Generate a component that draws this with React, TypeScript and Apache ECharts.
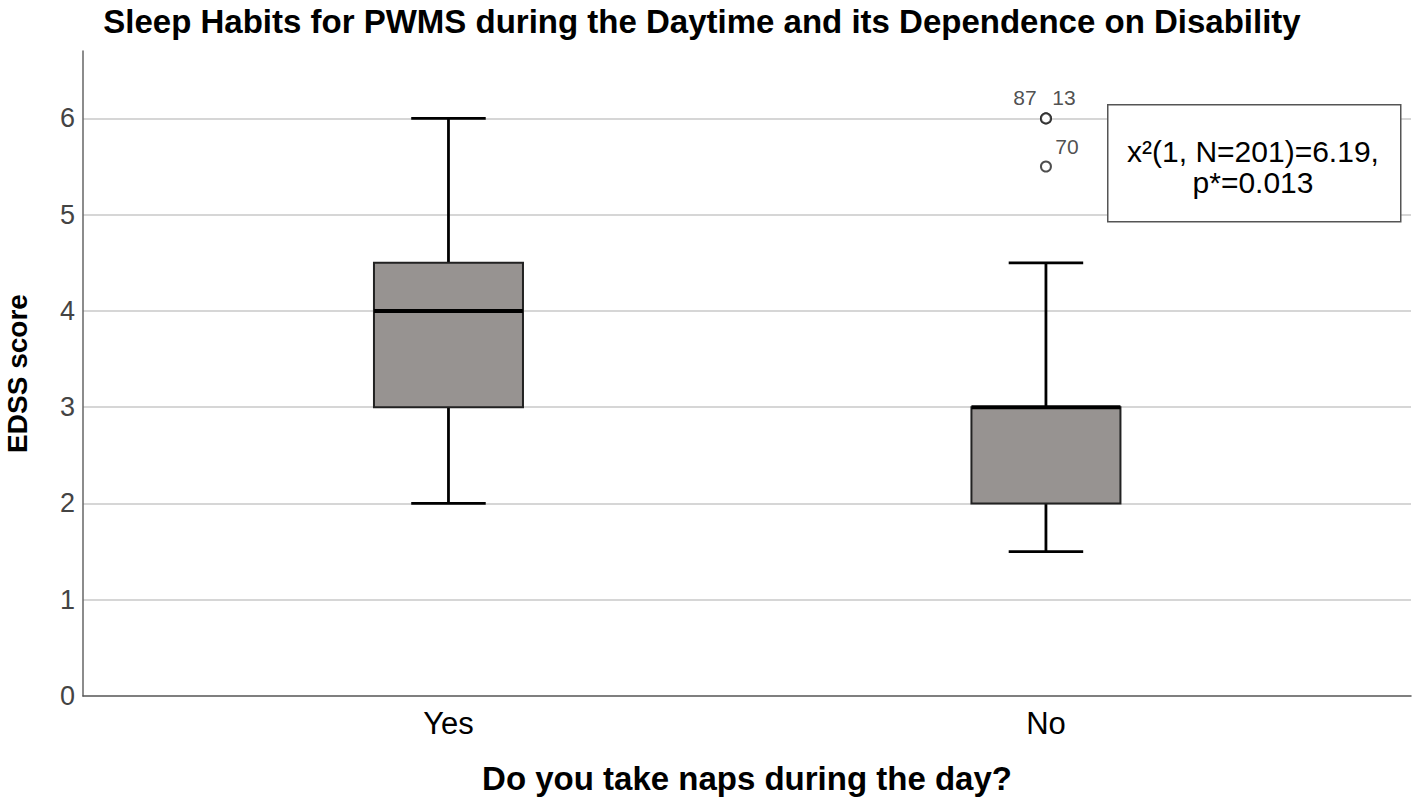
import React, { useEffect, useRef } from "react";
import * as echarts from "echarts";

const categories = ["Yes", "No"];
// [whiskerLow, q1, median, q3, whiskerHigh]
const boxStats = [
  [2, 3, 4, 4.5, 6],
  [1.5, 2, 3, 3, 4.5],
];
const outlierGroup = [1, 1, 1];
const outlierValues = [6, 6, 5.5];
const outlierCases = ["87", "13", "70"];
const outlierLabelOffsetX = [-21, 18, 21];
const yTicks = [0, 1, 2, 3, 4, 5, 6];
const statLines = ["x²(1, N=201)=6.19,", "p*=0.013"];

const FONT = "'Liberation Sans', Arial, sans-serif";

export default function App() {
  const ref = useRef<HTMLDivElement>(null);
  useEffect(() => {
    document.body.style.margin = "0";
    const chart = echarts.init(ref.current!, null, { renderer: "svg" });
    const boxWidthUnits = 0.2494;
    const option: any = {
      animation: false,
      backgroundColor: "#ffffff",
      title: {
        text: "Sleep Habits for PWMS during the Daytime and its Dependence on Disability",
        left: 697,
        textAlign: "center",
        top: 0,
        textStyle: { fontFamily: FONT, fontWeight: "bold", fontSize: 33, color: "#000" },
      },
      grid: { left: 83, right: 7, top: 51, bottom: 115, containLabel: false, outerBoundsMode: "none" },
      xAxis: {
        type: "value",
        min: -0.6117,
        max: 1.611,
        name: "Do you take naps during the day?",
        nameLocation: "middle",
        nameGap: 66,
        nameTextStyle: { fontFamily: FONT, fontWeight: "bold", fontSize: 33, color: "#000" },
        axisLine: { show: true, onZero: false, lineStyle: { color: "#555", width: 1.5 } },
        axisTick: { show: false },
        splitLine: { show: false },
        axisLabel: {
          customValues: [0, 1],
          formatter: (v: number) => categories[Math.round(v)] ?? "",
          fontFamily: FONT,
          fontSize: 31,
          color: "#000",
          margin: 12,
        },
      },
      yAxis: {
        type: "value",
        min: 0,
        max: 6.7,
        interval: 1,
        name: "EDSS score",
        nameLocation: "middle",
        nameGap: 52,
        nameTextStyle: { fontFamily: FONT, fontWeight: "bold", fontSize: 28, color: "#000" },
        axisLine: { show: true, onZero: false, lineStyle: { color: "#666", width: 1.5 } },
        axisTick: { show: false },
        axisLabel: {
          customValues: yTicks,
          fontFamily: FONT,
          fontSize: 27,
          color: "#444",
          margin: 8,
        },
        splitLine: {
          show: true,
          showMinLine: false,
          showMaxLine: false,
          lineStyle: { color: "#c8c8c8", width: 1.5 },
        },
      },
      series: [
        {
          type: "custom",
          data: boxStats.map((s, i) => [i, ...s]),
          encode: { x: 0, y: [1, 2, 3, 4, 5] },
          renderItem: (params: any, api: any) => {
            const x = api.value(0);
            const lo = api.coord([x, api.value(1)]);
            const q1 = api.coord([x, api.value(2)]);
            const med = api.coord([x, api.value(3)]);
            const q3 = api.coord([x, api.value(4)]);
            const hi = api.coord([x, api.value(5)]);
            const w = api.size([boxWidthUnits, 0])[0];
            const cx = lo[0];
            const cap = w / 4;
            const lineStyle = { stroke: "#000", lineWidth: 2.8 };
            return {
              type: "group",
              children: [
                { type: "line", shape: { x1: cx, y1: hi[1], x2: cx, y2: q3[1] }, style: lineStyle },
                { type: "line", shape: { x1: cx, y1: q1[1], x2: cx, y2: lo[1] }, style: lineStyle },
                { type: "line", shape: { x1: cx - cap, y1: hi[1], x2: cx + cap, y2: hi[1] }, style: lineStyle },
                { type: "line", shape: { x1: cx - cap, y1: lo[1], x2: cx + cap, y2: lo[1] }, style: lineStyle },
                {
                  type: "rect",
                  shape: { x: cx - w / 2, y: q3[1], width: w, height: q1[1] - q3[1] },
                  style: { fill: "#979391", stroke: "#222", lineWidth: 2 },
                },
                {
                  type: "line",
                  shape: { x1: cx - w / 2, y1: med[1], x2: cx + w / 2, y2: med[1] },
                  style: { stroke: "#000", lineWidth: 4 },
                },
              ],
            };
          },
        },
        {
          type: "scatter",
          symbol: "circle",
          symbolSize: 10,
          itemStyle: { color: "#fff", borderColor: "#222", borderWidth: 2 },
          data: outlierValues.map((v, i) => ({
            value: [outlierGroup[i], v],
            name: outlierCases[i],
            label: {
              show: true,
              position: "top",
              distance: 4,
              offset: [outlierLabelOffsetX[i], 0],
              formatter: "{b}",
              fontFamily: FONT,
              fontSize: 21,
              color: "#222",
            },
          })),
        },
      ],
      graphic: [
        {
          type: "rect",
          left: 1107,
          top: 104,
          shape: { width: 293, height: 117 },
          style: { fill: "#fff", stroke: "#555", lineWidth: 1.5 },
          z: 10,
        },
        ...statLines.map((t, i) => ({
          type: "text",
          x: 1253,
          y: 151 + i * 31,
          style: {
            text: t,
            align: "center",
            verticalAlign: "middle",
            fontFamily: FONT,
            fontSize: 30,
            fill: "#000",
          },
          z: 11,
        })),
      ],
    };
    chart.setOption(option);
    return () => chart.dispose();
  }, []);
  return <div ref={ref} style={{ width: 1418, height: 811 }} />;
}
